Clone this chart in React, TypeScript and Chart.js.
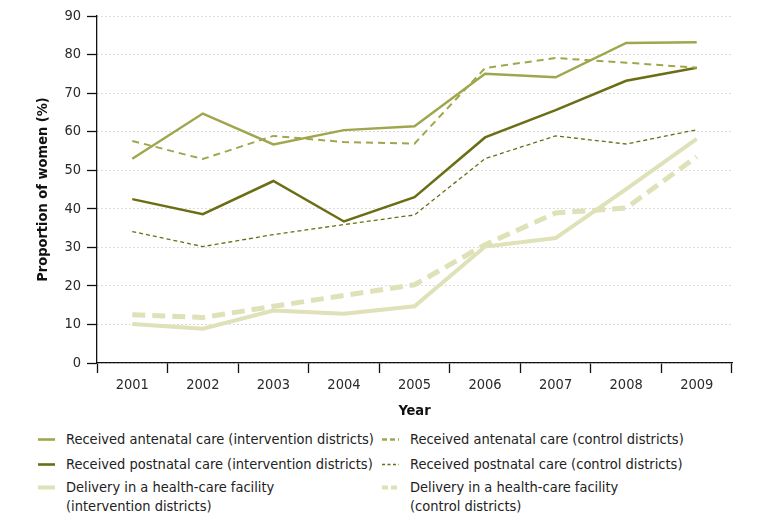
import React, { useEffect, useRef } from "react";
import { Chart, registerables } from "chart.js";

Chart.register(...registerables);

// ---- data ----
const years = ["2001", "2002", "2003", "2004", "2005", "2006", "2007", "2008", "2009"];
const antenatalIntervention = [53.0, 64.7, 56.7, 60.4, 61.4, 75.0, 74.1, 83.0, 83.2];
const antenatalControl = [57.6, 52.9, 58.9, 57.3, 56.9, 76.5, 79.1, 77.9, 76.6];
const postnatalIntervention = [42.5, 38.6, 47.2, 36.7, 43.0, 58.5, 65.6, 73.2, 76.6];
const postnatalControl = [34.1, 30.2, 33.3, 35.9, 38.4, 53.0, 58.9, 56.8, 60.5];
const deliveryIntervention = [10.1, 8.9, 13.6, 12.8, 14.7, 30.2, 32.4, 45.1, 58.1];
const deliveryControl = [12.5, 11.8, 14.7, 17.5, 20.3, 30.7, 38.9, 40.2, 53.5];
const yMin = 0;
const yMax = 90;
const yStep = 10;

const seriesLabels = [
  "Received antenatal care (intervention districts)",
  "Received antenatal care (control districts)",
  "Received postnatal care (intervention districts)",
  "Received postnatal care (control districts)",
  "Delivery in a health-care facility\n(intervention districts)",
  "Delivery in a health-care facility\n(control districts)",
];
const seriesData = [
  antenatalIntervention,
  antenatalControl,
  postnatalIntervention,
  postnatalControl,
  deliveryIntervention,
  deliveryControl,
];

// ---- styles ----
const ANTENATAL = "#a0a64c";
const POSTNATAL = "#6b6e14";
const DELIVERY = "#dfe1b9";
const seriesStyles = [
  { color: ANTENATAL, width: 2.4, dash: [] as number[], legendDash: "" },
  { color: ANTENATAL, width: 2, dash: [7, 5], legendDash: "5 3" },
  { color: POSTNATAL, width: 2.5, dash: [] as number[], legendDash: "" },
  { color: POSTNATAL, width: 1.3, dash: [4, 3], legendDash: "3 2.5" },
  { color: DELIVERY, width: 4, dash: [] as number[], legendDash: "" },
  { color: DELIVERY, width: 5, dash: [13, 7], legendDash: "6 3" },
];
const legendPos = [
  { left: 38, top: 430 },
  { left: 382, top: 430 },
  { left: 38, top: 455 },
  { left: 382, top: 455 },
  { left: 38, top: 478 },
  { left: 382, top: 478 },
];

const FONT = "'Liberation Sans Narrow', 'DejaVu Sans Condensed', 'Open Sans', sans-serif";
const CANVAS_W = 771;
const CANVAS_H = 421;

export default function App() {
  const canvasRef = useRef<HTMLCanvasElement | null>(null);

  useEffect(() => {
    document.body.style.margin = "0";
    const canvas = canvasRef.current;
    if (!canvas) return;
    Chart.defaults.font.family = FONT;

    const chart = new Chart(canvas, {
      type: "line",
      data: {
        labels: years,
        datasets: seriesData.map((d, i) => ({
          label: seriesLabels[i],
          data: d,
          borderColor: seriesStyles[i].color,
          backgroundColor: seriesStyles[i].color,
          borderWidth: seriesStyles[i].width,
          borderDash: seriesStyles[i].dash,
          pointRadius: 0,
          tension: 0,
          fill: false,
          borderJoinStyle: "miter" as const,
        })),
      },
      options: {
        animation: false,
        responsive: false,
        maintainAspectRatio: false,
        layout: { padding: { left: 35, right: 39, top: 16, bottom: 0 } },
        plugins: {
          legend: { display: false },
          tooltip: { enabled: false },
        },
        scales: {
          x: {
            type: "category",
            offset: true,
            afterFit: (s: any) => {
              s.height = 58;
            },
            grid: {
              offset: true,
              drawOnChartArea: false,
              drawTicks: true,
              tickLength: 10,
              tickColor: "#111",
              tickWidth: 1.3,
            },
            border: { display: true, color: "#111", width: 1.3 },
            ticks: {
              color: "#2a2a2a",
              font: { size: 14.5, family: FONT },
              padding: 4,
              maxRotation: 0,
              autoSkip: false,
            },
            title: {
              display: true,
              text: "Year",
              color: "#111",
              font: { size: 14.5, weight: "bold", family: FONT },
              padding: { top: 0, bottom: 1 },
            },
          },
          y: {
            min: yMin,
            max: yMax,
            afterFit: (s: any) => {
              s.width = 62;
            },
            grid: {
              color: "#c4c4c4",
              lineWidth: 1,
              drawTicks: true,
              tickLength: 10,
              tickColor: "#111",
              tickWidth: 1.3,
              tickBorderDash: [],
            },
            border: { display: true, color: "#111", width: 1.3, dash: [1.2, 2.8] },
            ticks: {
              stepSize: yStep,
              color: "#2a2a2a",
              font: { size: 14.5, family: FONT },
              padding: 6,
            },
            title: {
              display: true,
              text: "Proportion of women (%)",
              color: "#111",
              font: { size: 14.5, weight: "bold", family: FONT },
              padding: { top: 0, bottom: 0 },
            },
          },
        },
      },
    } as any);

    return () => {
      chart.destroy();
    };
  }, []);

  return (
    <div style={{ position: "relative", width: CANVAS_W, height: 524, background: "#fff", fontFamily: FONT }}>
      <canvas ref={canvasRef} width={CANVAS_W} height={CANVAS_H} style={{ display: "block" }} />
      {seriesLabels.map((label, i) => {
        const st = seriesStyles[i];
        const lines = label.split("\n");
        return (
          <div
            key={i}
            style={{
              position: "absolute",
              left: legendPos[i].left,
              top: legendPos[i].top,
              display: "flex",
              alignItems: "flex-start",
              fontSize: 14.5,
              lineHeight: "19px",
              color: "#222",
              whiteSpace: "nowrap",
            }}
          >
            <svg width={17} height={19} style={{ marginRight: 11, flex: "none" }}>
              <line
                x1={0}
                y1={9.5}
                x2={17}
                y2={9.5}
                stroke={st.color}
                strokeWidth={i === 3 ? 1.6 : i >= 4 ? 4 : 2.6}
                strokeDasharray={st.legendDash || undefined}
              />
            </svg>
            <div>
              {lines.map((ln, j) => (
                <div key={j}>{ln}</div>
              ))}
            </div>
          </div>
        );
      })}
    </div>
  );
}
